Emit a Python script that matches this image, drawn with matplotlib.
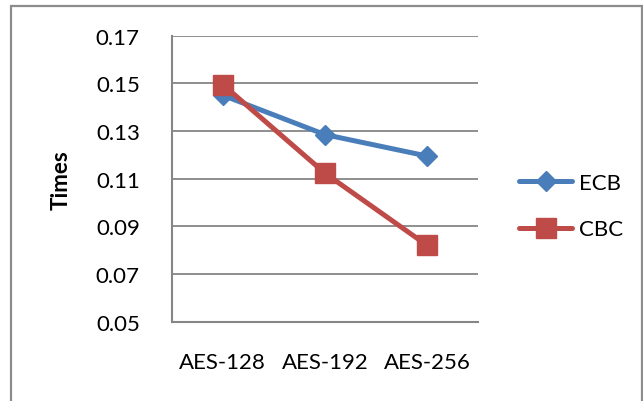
import matplotlib
matplotlib.use("Agg")
import matplotlib.pyplot as plt
from matplotlib.patches import Rectangle

# Encryption time per AES key size, by block cipher mode
key_sizes = ["AES-128", "AES-192", "AES-256"]
ecb_times = [0.145, 0.1285, 0.1195]
cbc_times = [0.1495, 0.1123, 0.082]
y_ticks = [0.05, 0.07, 0.09, 0.11, 0.13, 0.15, 0.17]
y_tick_labels = ["0.05", "0.07", "0.09", "0.11", "0.13", "0.15", "0.17"]

plt.rcParams["font.family"] = ["Lato", "DejaVu Sans"]
FS = 16

W, H = 643, 402
fig = plt.figure(figsize=(W / 100, H / 100), dpi=100)
fig.patch.set_facecolor("white")

# outer chart frame
fig.patches.append(Rectangle((11 / W, -0.05), (641.5 - 11) / W, 1.05 - 7 / H,
                             transform=fig.transFigure, fill=False,
                             edgecolor="#8c8c8c", linewidth=1.6))

left, right = 171.7 / W, 478.3 / W
top, bottom = 1 - 36.7 / H, 1 - 322.7 / H
ax = fig.add_axes([left, bottom, right - left, top - bottom])

x = list(range(len(key_sizes)))
grey = "#868686"

ax.plot(x, ecb_times, color="#4A7EBB", linewidth=3.6, marker="D",
        markersize=10, label="ECB", zorder=3, solid_capstyle="round")
ax.plot(x, cbc_times, color="#BE4B48", linewidth=3.6, marker="s",
        markersize=14, label="CBC", zorder=3, solid_capstyle="round")

ax.set_xlim(-0.5, 2.5)
ax.set_ylim(0.05, 0.17)
ax.set_yticks(y_ticks)
ax.set_yticklabels(y_tick_labels, fontsize=FS)
ax.set_xticks(x)
ax.set_xticklabels(key_sizes, fontsize=FS)
ax.tick_params(axis="both", length=0)
ax.tick_params(axis="y", pad=23)
ax.tick_params(axis="x", pad=22)

ax.grid(axis="y", color=grey, linewidth=1.3)
ax.set_axisbelow(True)
for s in ("top", "right"):
    ax.spines[s].set_visible(False)
for s in ("left", "bottom"):
    ax.spines[s].set_color(grey)
    ax.spines[s].set_linewidth(1.5)

fig.text(61 / W, 1 - 180 / H, "Times", rotation=90, fontsize=FS,
         fontweight="bold", ha="center", va="center")

fig.legend(loc="center left", bbox_to_anchor=(510 / W, 1 - 207 / H),
           frameon=False, fontsize=FS, handlelength=2.4,
           handletextpad=0.3, labelspacing=1.2, borderaxespad=0)

fig.savefig("out.png", dpi=100)
